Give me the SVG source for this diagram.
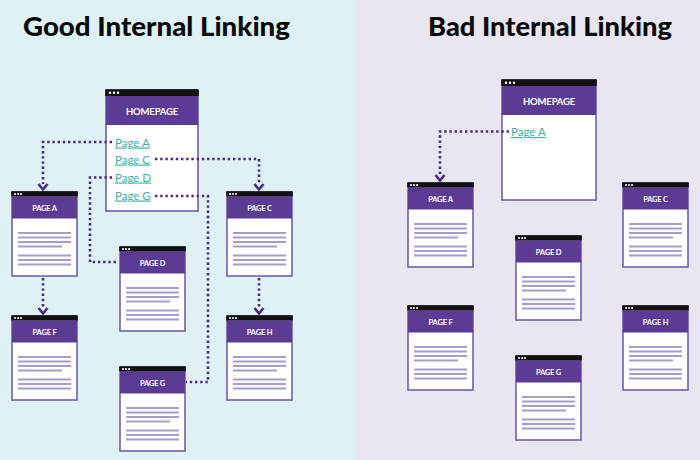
<svg xmlns="http://www.w3.org/2000/svg" width="700" height="460" viewBox="0 0 700 460">
<style>
.title{font-family:Lato,"Liberation Sans",sans-serif;font-weight:900;font-size:26px;fill:#0a0a0a}
.card{fill:#fff;stroke:#6b55a5;stroke-width:1.5}
.bar{fill:#111}
.hdr{fill:#5c3b94}
.dot{fill:#fff}
.lbl{font-family:Lato,"Liberation Sans",sans-serif;font-weight:700;font-size:7.5px;fill:#fff;text-anchor:middle;letter-spacing:-0.2px}
.hlbl{font-family:Lato,"Liberation Sans",sans-serif;font-weight:700;font-size:9.5px;fill:#fff;text-anchor:middle;letter-spacing:-0.2px}
.ln{stroke:#a99bcd;stroke-width:1.8}
.link{font-family:Lato,"Liberation Sans",sans-serif;font-size:11.5px;fill:#3ab3a3;text-decoration:underline}
.conn{fill:none;stroke:#4a2a85;stroke-width:2.6;stroke-dasharray:2.4 2.8}
.arr{fill:none;stroke:#4a2a85;stroke-width:2.6;stroke-linejoin:miter}
</style>
<defs>
<g id="lines">
<line class="ln" x1="6" y1="41" x2="59" y2="41"/>
<line class="ln" x1="6" y1="45.5" x2="59" y2="45.5"/>
<line class="ln" x1="6" y1="50" x2="59" y2="50"/>
<line class="ln" x1="6" y1="54.5" x2="50" y2="54.5"/>
<line class="ln" x1="6" y1="63.5" x2="59" y2="63.5"/>
<line class="ln" x1="6" y1="68" x2="59" y2="68"/>
<line class="ln" x1="6" y1="72.5" x2="59" y2="72.5"/>
</g>
<g id="frame">
<rect class="card" x="0" y="0" width="65" height="84"/>
<rect class="bar" x="-0.75" y="-0.75" width="66.5" height="5.5" rx="1"/>
<rect class="hdr" x="0" y="4.5" width="65" height="22"/>
<circle class="dot" cx="3" cy="2" r="1"/>
<circle class="dot" cx="6" cy="2" r="1"/>
<circle class="dot" cx="9" cy="2" r="1"/>
<use href="#lines"/>
</g>
</defs>
<rect x="0" y="0" width="355" height="460" fill="#dff1f4"/>
<rect x="355" y="0" width="345" height="460" fill="#e9e6f1"/>
<text class="title" x="23" y="36" textLength="267" lengthAdjust="spacingAndGlyphs">Good Internal Linking</text>
<text class="title" x="428" y="36" textLength="244" lengthAdjust="spacingAndGlyphs">Bad Internal Linking</text>

<g id="home-good" transform="translate(106,90)">
<rect class="card" x="0" y="0" width="92" height="121"/>
<rect class="bar" x="-0.75" y="-0.75" width="93.5" height="7" rx="1"/>
<rect class="hdr" x="0" y="6" width="92" height="29"/>
<circle class="dot" cx="4" cy="2.8" r="1.2"/>
<circle class="dot" cx="8" cy="2.8" r="1.2"/>
<circle class="dot" cx="12" cy="2.8" r="1.2"/>
<text class="hlbl" x="46" y="25">HOMEPAGE</text>
<text class="link" x="9" y="56.5">Page A</text>
<text class="link" x="9" y="73.5">Page C</text>
<text class="link" x="9" y="91.5">Page D</text>
<text class="link" x="9" y="109.5">Page G</text>
</g>
<g id="good-a" transform="translate(12,192)"><use href="#frame"/><text class="lbl" x="32.5" y="18.5">PAGE A</text></g>
<g id="good-f" transform="translate(12,316)"><use href="#frame"/><text class="lbl" x="32.5" y="18.5">PAGE F</text></g>
<g id="good-d" transform="translate(120,247)"><use href="#frame"/><text class="lbl" x="32.5" y="18.5">PAGE D</text></g>
<g id="good-g" transform="translate(120,367)"><use href="#frame"/><text class="lbl" x="32.5" y="18.5">PAGE G</text></g>
<g id="good-c" transform="translate(227,192)"><use href="#frame"/><text class="lbl" x="32.5" y="18.5">PAGE C</text></g>
<g id="good-h" transform="translate(227,316)"><use href="#frame"/><text class="lbl" x="32.5" y="18.5">PAGE H</text></g>

<g id="home-bad" transform="translate(502,80)">
<rect class="card" x="0" y="0" width="94" height="120"/>
<rect class="bar" x="-0.75" y="-0.75" width="95.5" height="7" rx="1"/>
<rect class="hdr" x="0" y="6" width="94" height="29"/>
<circle class="dot" cx="4" cy="2.8" r="1.2"/>
<circle class="dot" cx="8" cy="2.8" r="1.2"/>
<circle class="dot" cx="12" cy="2.8" r="1.2"/>
<text class="hlbl" x="47" y="25">HOMEPAGE</text>
<text class="link" x="9" y="56">Page A</text>
</g>
<g id="bad-a" transform="translate(408,183)"><use href="#frame"/><text class="lbl" x="32.5" y="18.5">PAGE A</text></g>
<g id="bad-c" transform="translate(623,183)"><use href="#frame"/><text class="lbl" x="32.5" y="18.5">PAGE C</text></g>
<g id="bad-d" transform="translate(516,236)"><use href="#frame"/><text class="lbl" x="32.5" y="18.5">PAGE D</text></g>
<g id="bad-f" transform="translate(408,306)"><use href="#frame"/><text class="lbl" x="32.5" y="18.5">PAGE F</text></g>
<g id="bad-h" transform="translate(623,306)"><use href="#frame"/><text class="lbl" x="32.5" y="18.5">PAGE H</text></g>
<g id="bad-g" transform="translate(516,356)"><use href="#frame"/><text class="lbl" x="32.5" y="18.5">PAGE G</text></g>

<g id="connectors">
<path class="conn" d="M112,142 H43 V184"/>
<path class="conn" d="M155,159 H259 V184"/>
<path class="conn" d="M112,177.5 H90 V262 H118"/>
<path class="conn" d="M155,196 H208 V382 H186"/>
<path class="conn" d="M43,278 V308"/>
<path class="conn" d="M259,278 V308"/>
<path class="conn" d="M509,131.5 H440 V175"/>
<path class="arr" d="M38.5,184 L43,189.5 L47.5,184"/>
<path class="arr" d="M254.5,184 L259,189.5 L263.5,184"/>
<path class="arr" d="M38.5,308 L43,313.5 L47.5,308"/>
<path class="arr" d="M254.5,308 L259,313.5 L263.5,308"/>
<path class="arr" d="M435.5,175 L440,180.5 L444.5,175"/>
</g>
</svg>
